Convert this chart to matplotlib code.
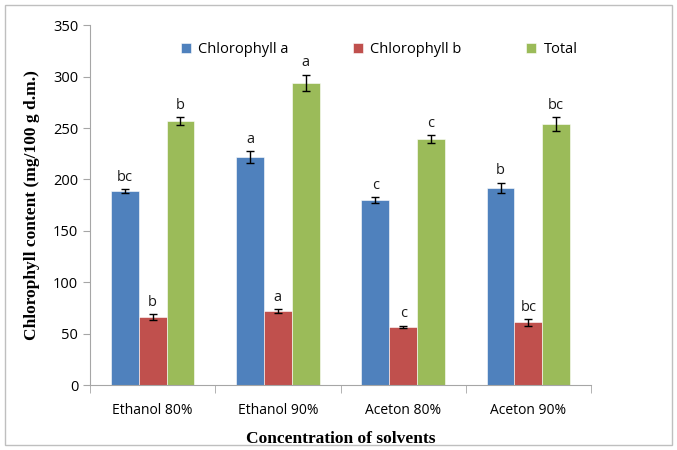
import numpy as np
import matplotlib.pyplot as plt
from matplotlib.patches import Rectangle

# data
solvents = ["Ethanol 80%", "Ethanol 90%", "Aceton 80%", "Aceton 90%"]
series_names = ["Chlorophyll a", "Chlorophyll b", "Total"]
chl_a = [189, 222, 180, 192]
chl_b = [66, 72, 57, 61]
total = [257, 294, 239, 254]
chl_a_err = [2, 6, 3, 5]
chl_b_err = [3, 2, 1, 3]
total_err = [4, 8, 4, 7]
chl_a_letters = ["bc", "a", "c", "b"]
chl_b_letters = ["b", "a", "c", "bc"]
total_letters = ["b", "a", "c", "bc"]

colors = ["#4f81bd", "#c0504d", "#9bbb59"]
tick_font = "Open Sans"
title_font = "Liberation Serif"

fig = plt.figure(figsize=(6.77, 4.5), dpi=100)
ax = fig.add_axes([0.133, 0.144, 0.74, 0.8])

# outer chart frame
fig.patches.append(Rectangle((0.008, 0.012), 0.984, 0.976, transform=fig.transFigure,
                             fill=False, edgecolor="#bfbfbf", linewidth=1.0))

x = np.arange(len(solvents))
width = 0.222
values = [chl_a, chl_b, total]
errors = [chl_a_err, chl_b_err, total_err]
letters = [chl_a_letters, chl_b_letters, total_letters]

for i in range(3):
    pos = x + (i - 1) * width
    ax.bar(pos, values[i], width, color=colors[i], label=series_names[i],
           edgecolor="white", linewidth=0.4,
           yerr=errors[i], capsize=3, error_kw=dict(ecolor="black", elinewidth=1, capthick=1))
    for p, v, e, lab in zip(pos, values[i], errors[i], letters[i]):
        ax.text(p, v + e + 4, lab, ha="center", va="bottom", fontsize=10.5,
                family=tick_font, color="#1a1a1a")

ax.set_xlim(-0.5, len(solvents) - 0.5)
ax.set_ylim(0, 350)
ax.set_yticks(np.arange(0, 351, 50))
ax.set_xticks(x)
ax.set_xticklabels(solvents, family=tick_font, fontsize=10)
ax.tick_params(axis="x", length=0, pad=13)
ax.set_xticks(np.arange(-0.5, len(solvents), 1), minor=True)
ax.tick_params(axis="x", which="minor", length=6, color="#a6a6a6")
ax.tick_params(axis="y", length=5, color="#a6a6a6", labelsize=10.5)
for lab in ax.get_yticklabels():
    lab.set_family(tick_font)

for side in ["top", "right"]:
    ax.spines[side].set_visible(False)
for side in ["left", "bottom"]:
    ax.spines[side].set_color("#a6a6a6")

ax.set_xlabel("Concentration of solvents", family=title_font, fontweight="bold",
              fontsize=12.5, labelpad=9)
ax.set_ylabel("Chlorophyll content (mg/100 g d.m.)", family=title_font,
              fontweight="bold", fontsize=12.5, labelpad=9)

ax.legend(loc="upper center", bbox_to_anchor=(0.577, 0.99), ncol=3, frameon=False,
          prop={"family": tick_font, "size": 10.5}, handlelength=0.7, handleheight=0.7,
          columnspacing=4.4, handletextpad=0.5)

fig.savefig("out.png", dpi=100)
